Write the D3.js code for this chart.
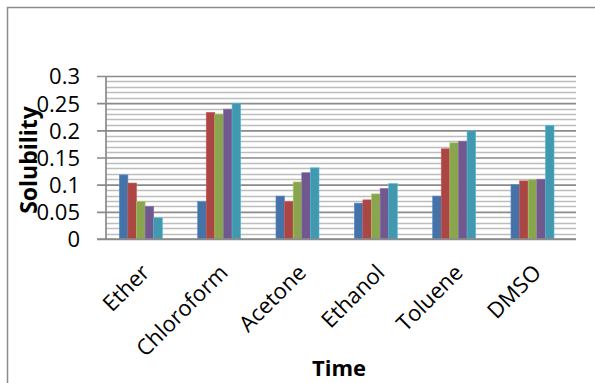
<!DOCTYPE html>
<html>
<head>
<meta charset="utf-8">
<script src="https://cdn.jsdelivr.net/npm/d3@7"></script>
<style>
  html, body { margin: 0; padding: 0; background: #fff; }
  svg { display: block; }
</style>
</head>
<body>
<svg id="chart" width="595" height="383"></svg>
<script>
// Solvents on the category axis
const categories = ["Ether", "Chloroform", "Acetone", "Ethanol", "Toluene", "DMSO"];
// Five measurement series per solvent
const seriesNames = ["S1", "S2", "S3", "S4", "S5"];
const series1 = [0.118, 0.069, 0.079, 0.066, 0.079, 0.100];
const series2 = [0.103, 0.233, 0.069, 0.072, 0.166, 0.107];
const series3 = [0.069, 0.230, 0.105, 0.083, 0.177, 0.109];
const series4 = [0.060, 0.239, 0.122, 0.093, 0.180, 0.110];
const series5 = [0.039, 0.250, 0.131, 0.102, 0.199, 0.209];
const seriesValues = [series1, series2, series3, series4, series5];
const colors = ["#4572A7", "#AA4643", "#89A54E", "#71588F", "#4198AF"];
const yTicks = [0, 0.05, 0.1, 0.15, 0.2, 0.25, 0.3];
const yTickLabels = ["0", "0.05", "0.1", "0.15", "0.2", "0.25", "0.3"];
const yMinorStep = 0.01;
const xTitle = "Time";
const yTitle = "Solubility";

const svg = d3.select("#chart");
const W = 595, H = 383;
const plot = { left: 106, right: 576, top: 76, bottom: 239 };
const font = "'Open Sans', 'DejaVu Sans', sans-serif";

// Outer chart frame
svg.append("rect")
  .attr("x", 7.5).attr("y", 7.5)
  .attr("width", W + 20).attr("height", H + 20)
  .attr("fill", "#fff").attr("stroke", "#8c8c8c").attr("stroke-width", 1.5);

const y = d3.scaleLinear().domain([0, 0.3]).range([plot.bottom, plot.top]);
const x0 = d3.scaleBand().domain(categories).range([plot.left, plot.right]).paddingInner(0).paddingOuter(0);
const x1 = d3.scaleBand().domain(seriesNames).range([0, x0.bandwidth()])
  .paddingInner(0).paddingOuter(2.05).align(0.377);

// Minor gridlines
const minor = d3.range(0, 31).map(i => +(i * yMinorStep).toFixed(2))
  .filter(v => !yTicks.some(t => Math.abs(t - v) < 1e-9));
svg.append("g").selectAll("line").data(minor).join("line")
  .attr("x1", plot.left).attr("x2", plot.right)
  .attr("y1", d => Math.round(y(d)) + 0.5).attr("y2", d => Math.round(y(d)) + 0.5)
  .attr("stroke", "#bdbdbd").attr("stroke-width", 1.5);

// Major gridlines with outward tick marks
const yAxis = d3.axisLeft(y).tickValues(yTicks)
  .tickSize(-(plot.right - plot.left)).tickSizeOuter(0)
  .tickFormat((d, i) => yTickLabels[i]);
const gy = svg.append("g").attr("transform", `translate(${plot.left},0)`).call(yAxis);
gy.select(".domain").remove();
gy.selectAll(".tick line").attr("stroke", "#8a8a8a").attr("stroke-width", 1.7)
  .attr("x1", -9);
gy.selectAll(".tick text")
  .attr("x", -26).attr("dy", "0.36em")
  .attr("fill", "#000")
  .style("font-family", font).style("font-size", "22px");

// Bars
const groups = svg.append("g").selectAll("g").data(categories).join("g")
  .attr("transform", d => `translate(${x0(d)},0)`);
groups.selectAll("rect")
  .data((d, ci) => seriesNames.map((s, si) => ({ s, si, v: seriesValues[si][ci] })))
  .join("rect")
  .attr("x", d => x1(d.s))
  .attr("width", x1.bandwidth())
  .attr("y", d => y(d.v))
  .attr("height", d => y(0) - y(d.v))
  .attr("fill", d => colors[d.si])
  .attr("stroke", d => d3.color(colors[d.si]).brighter(0.6))
  .attr("stroke-width", 0.6);

// Vertical axis line and baseline
svg.append("line")
  .attr("x1", plot.left).attr("x2", plot.left)
  .attr("y1", plot.top).attr("y2", plot.bottom)
  .attr("stroke", "#8a8a8a").attr("stroke-width", 1.7);
svg.append("line")
  .attr("x1", plot.left - 9).attr("x2", plot.right)
  .attr("y1", plot.bottom).attr("y2", plot.bottom)
  .attr("stroke", "#8a8a8a").attr("stroke-width", 1.7);

// Category labels, rotated
svg.append("g").selectAll("text").data(categories).join("text")
  .attr("transform", d => {
    const cx = x0(d) + x1(seriesNames[0]) + 2.5 * x1.bandwidth();
    return `translate(${cx + 10},${plot.bottom + 35}) rotate(-45)`;
  })
  .attr("text-anchor", "end")
  .style("font-family", font).style("font-size", "22px")
  .text(d => d);

// Axis titles
svg.append("text")
  .attr("x", (plot.left + plot.right) / 2 - 2).attr("y", 376)
  .attr("text-anchor", "middle")
  .style("font-family", font).style("font-size", "22px").style("font-weight", "bold")
  .text(xTitle);
svg.append("text")
  .attr("transform", "translate(37,160) rotate(-90)")
  .attr("text-anchor", "middle")
  .style("font-family", font).style("font-size", "23px").style("font-weight", "bold")
  .text(yTitle);
</script>
</body>
</html>
